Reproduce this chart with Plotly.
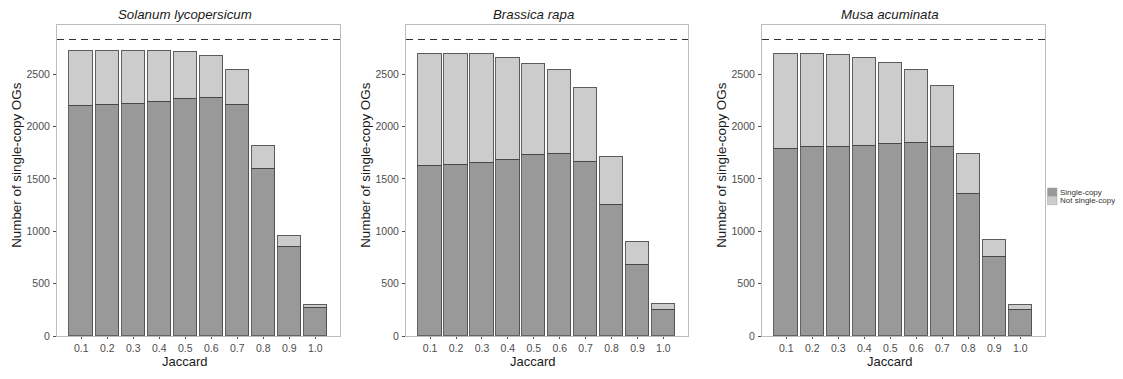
import numpy as np
import plotly.graph_objects as go

jaccard = ["0.1", "0.2", "0.3", "0.4", "0.5", "0.6", "0.7", "0.8", "0.9", "1.0"]
species = ["Solanum lycopersicum", "Brassica rapa", "Musa acuminata"]

solanum_single = [2195, 2205, 2218, 2238, 2262, 2280, 2205, 1598, 858, 275]
solanum_total = [2728, 2728, 2728, 2728, 2712, 2680, 2542, 1822, 960, 300]

brassica_single = [1630, 1640, 1652, 1686, 1733, 1742, 1666, 1250, 680, 248]
brassica_total = [2692, 2692, 2692, 2655, 2605, 2540, 2370, 1710, 898, 312]

musa_single = [1793, 1804, 1812, 1816, 1839, 1845, 1804, 1357, 760, 256]
musa_total = [2692, 2692, 2684, 2655, 2609, 2548, 2395, 1745, 918, 302]

reference_total = 2832  # dashed line
y_ticks = [0, 500, 1000, 1500, 2000, 2500]

singles = [solanum_single, brassica_single, musa_single]
totals = [solanum_total, brassica_total, musa_total]

OFF = 8  # default body margin of the html page (each side)
W, H = 1123 - 2 * OFF, 379 - 2 * OFF


def fx(px):
    return (px - OFF) / W


def fy(py):
    return 1 - (py - OFF) / H


panels_px = [(57, 340), (406, 688), (762, 1045)]
y_top_px, y_bot_px = 25, 341.6

c_single = "#999999"
c_not = "#cccccc"
edge = "rgba(70,70,70,0.85)"
font_fam = "Arial, Liberation Sans, sans-serif"

fig = go.Figure()
for i in range(3):
    s = np.array(singles[i])
    t = np.array(totals[i])
    xa = "x" if i == 0 else f"x{i+1}"
    ya = "y" if i == 0 else f"y{i+1}"
    fig.add_trace(go.Bar(x=jaccard, y=s, name="Single-copy", marker=dict(color=c_single, line=dict(color=edge, width=1)),
                         width=0.9, xaxis=xa, yaxis=ya, showlegend=False))
    fig.add_trace(go.Bar(x=jaccard, y=t - s, name="Not single-copy", marker=dict(color=c_not, line=dict(color=edge, width=1)),
                         width=0.9, xaxis=xa, yaxis=ya, showlegend=False))

layout = dict(
    width=W, height=H, margin=dict(l=0, r=0, t=0, b=0),
    paper_bgcolor="white", plot_bgcolor="white", barmode="stack", bargap=0,
    font=dict(family=font_fam, color="#4d4d4d"),
)
ydom = [fy(y_bot_px), fy(y_top_px)]
shapes = []
annotations = []
for i, (l, r) in enumerate(panels_px):
    xk = "xaxis" if i == 0 else f"xaxis{i+1}"
    yk = "yaxis" if i == 0 else f"yaxis{i+1}"
    ya = "y" if i == 0 else f"y{i+1}"
    xa = "x" if i == 0 else f"x{i+1}"
    layout[xk] = dict(domain=[fx(l), fx(r)], anchor=ya, type="category", range=[-0.93, 9.95],
                      showline=True, linecolor="#bdbdbd", linewidth=1, mirror=True,
                      ticks="outside", ticklen=2, tickcolor="#4d4d4d", tickwidth=1,
                      tickfont=dict(size=10.5, color="#4d4d4d"), showgrid=False, zeroline=False)
    layout[yk] = dict(domain=ydom, anchor=xa, range=[0, 2973], tickvals=y_ticks,
                      showline=True, linecolor="#bdbdbd", linewidth=1, mirror=True,
                      ticks="outside", ticklen=3, tickcolor="#4d4d4d", tickwidth=1, ticklabelstandoff=1,
                      tickfont=dict(size=10.5, color="#4d4d4d"), showgrid=False, zeroline=False)
    shapes.append(dict(type="line", xref=f"{xa} domain", yref=ya, x0=0, x1=1, y0=reference_total, y1=reference_total,
                       line=dict(color="#333333", width=1.2, dash="7px,5px")))
    cx = (l + r) / 2 - 14
    annotations.append(dict(text=f"<i>{species[i]}</i>", x=fx(cx), y=fy(14.5), xref="paper", yref="paper",
                            showarrow=False, font=dict(size=13.3, color="#1a1a1a"), xanchor="center", yanchor="middle",
                            borderpad=0))
    annotations.append(dict(text="Jaccard", x=fx(cx), y=fy(367), xref="paper", yref="paper",
                            showarrow=False, font=dict(size=13, color="#1a1a1a"), xanchor="center", yanchor="middle",
                            borderpad=0))
    annotations.append(dict(text="Number of single-copy OGs", x=fx(l - 40), y=fy(167.5),
                            xref="paper", yref="paper", textangle=-90, showarrow=False,
                            font=dict(size=13.4, color="#1a1a1a"), xanchor="center", yanchor="middle", borderpad=0))

# legend (manual)
leg = [("Single-copy", c_single, 191), ("Not single-copy", c_not, 199.5)]
for name, col, ytop in leg:
    shapes.append(dict(type="rect", xref="paper", yref="paper", x0=fx(1047.5), x1=fx(1057),
                       y0=fy(ytop + 8.5), y1=fy(ytop), fillcolor=col, line=dict(color="#aaaaaa", width=0.6)))
    annotations.append(dict(text=name, x=fx(1059), y=fy(ytop + 4.5), xref="paper", yref="paper",
                            showarrow=False, font=dict(size=8, color="#333333"), xanchor="left", yanchor="middle",
                            borderpad=0))

layout["shapes"] = shapes
layout["annotations"] = annotations
fig.update_layout(**layout)
fig.write_html("out.html")
